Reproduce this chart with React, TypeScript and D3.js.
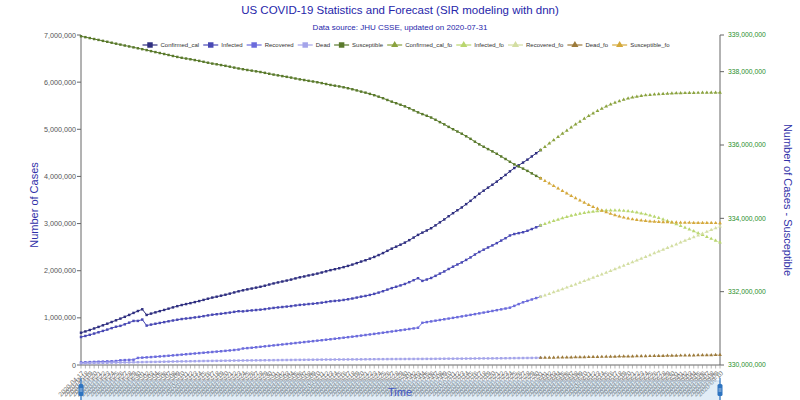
import React, { useMemo } from 'react';
import * as d3 from 'd3';

// values in thousands of cases, daily from 2020-04-17 to 2020-07-31
const confirmedCal = [
  685, 712, 742, 775, 808, 842, 876, 912, 948, 984, 1022, 1062, 1105, 1145, 1182,
  1062, 1090, 1116, 1142, 1168, 1195, 1222, 1248, 1272, 1292, 1312, 1334, 1356, 1381, 1406,
  1430, 1449, 1470, 1491, 1514, 1539, 1563, 1584, 1604, 1622, 1641, 1660, 1682, 1707, 1730,
  1751, 1771, 1791, 1812, 1837, 1860, 1878, 1900, 1918, 1939, 1962, 1987, 2012, 2032, 2052,
  2076, 2102, 2130, 2161, 2194, 2222, 2256, 2292, 2332, 2374, 2422, 2468, 2510, 2552, 2596,
  2648, 2703, 2760, 2808, 2853, 2901, 2962, 3026, 3087, 3156, 3220, 3282, 3342, 3412, 3482,
  3560, 3632, 3698, 3762, 3824, 3890, 3962, 4032, 4108, 4178, 4236, 4294, 4356, 4424, 4492, 4558,
];
const infected = [
  594, 616, 640, 667, 694, 723, 751, 782, 812, 830, 863, 898, 935, 935, 964,
  836, 857, 875, 892, 909, 927, 944, 960, 975, 986, 996, 1009, 1021, 1036, 1052,
  1067, 1077, 1088, 1100, 1112, 1127, 1141, 1138, 1149, 1158, 1166, 1174, 1185, 1199, 1211,
  1221, 1230, 1239, 1249, 1263, 1275, 1282, 1293, 1300, 1310, 1322, 1336, 1351, 1359, 1367,
  1380, 1394, 1410, 1430, 1450, 1465, 1486, 1509, 1536, 1565, 1599, 1631, 1660, 1688, 1719,
  1757, 1799, 1841, 1784, 1813, 1846, 1891, 1939, 1984, 2037, 2086, 2132, 2176, 2229, 2282,
  2343, 2398, 2446, 2493, 2537, 2585, 2639, 2690, 2747, 2778, 2797, 2816, 2847, 2884, 2921, 2959,
];
const recovered = [
  55, 58, 62, 66, 70, 73, 77, 80, 84, 100, 104, 108, 112, 150, 156,
  162, 168, 175, 182, 189, 196, 204, 212, 220, 228, 236, 244, 252, 260, 268,
  276, 284, 292, 300, 309, 318, 327, 350, 358, 366, 376, 386, 396, 406, 416,
  426, 436, 446, 456, 466, 476, 486, 496, 506, 516, 526, 536, 546, 557, 568,
  579, 590, 601, 612, 624, 636, 648, 660, 672, 685, 698, 711, 724, 737, 750,
  763, 776, 790, 895, 910, 925, 940, 955, 970, 985, 1000, 1015, 1031, 1047, 1063,
  1079, 1095, 1112, 1129, 1146, 1163, 1180, 1198, 1216, 1254, 1292, 1330, 1360, 1390, 1420, 1446,
];
const dead = [
  36, 38, 40, 42, 44, 46, 48, 50, 52, 54, 55, 56, 58, 60, 62,
  64, 65, 66, 68, 70, 72, 74, 76, 77, 78, 80, 81, 83, 85, 86,
  87, 88, 90, 91, 93, 94, 95, 96, 97, 98, 99, 100, 101, 102, 103,
  104, 105, 106, 107, 108, 109, 110, 111, 112, 113, 114, 115, 115, 116, 117,
  117, 118, 119, 119, 120, 121, 122, 123, 124, 124, 125, 126, 126, 127, 127,
  128, 128, 129, 129, 130, 130, 131, 132, 133, 134, 134, 135, 135, 136, 137,
  138, 139, 140, 140, 141, 142, 143, 144, 145, 146, 147, 148, 149, 150, 151, 153,
];
const susceptible = [
  338965, 338941, 338916, 338890, 338866, 338840, 338815, 338789, 338763, 338738, 338713, 338688, 338663, 338638, 338613,
  338588, 338560, 338534, 338508, 338482, 338455, 338428, 338402, 338378, 338358, 338338, 338316, 338294, 338269, 338244,
  338220, 338201, 338180, 338159, 338136, 338111, 338087, 338066, 338046, 338028, 338009, 337990, 337968, 337943, 337920,
  337899, 337879, 337859, 337838, 337813, 337790, 337772, 337750, 337732, 337711, 337688, 337663, 337638, 337618, 337598,
  337574, 337548, 337520, 337489, 337456, 337428, 337394, 337358, 337318, 337276, 337228, 337182, 337140, 337098, 337054,
  337002, 336947, 336890, 336842, 336797, 336749, 336688, 336624, 336563, 336494, 336430, 336368, 336308, 336238, 336168,
  336090, 336018, 335952, 335888, 335826, 335760, 335688, 335618, 335542, 335472, 335414, 335356, 335294, 335226, 335158, 335092,
];

// forecast, thousands, daily from 2020-07-31 to 2020-09-10
const confirmedFo = [
  4558, 4628, 4698, 4768, 4837, 4905, 4972, 5038, 5102, 5164, 5224, 5282, 5337, 5389,
  5438, 5484, 5526, 5564, 5598, 5628, 5654, 5676, 5694, 5709, 5721, 5731, 5739, 5746,
  5752, 5757, 5761, 5764, 5767, 5769, 5771, 5773, 5774, 5775, 5776, 5777, 5778, 5779,
];
const infectedFo = [
  2959, 2992, 3024, 3055, 3085, 3114, 3140, 3166, 3188, 3208, 3226, 3242, 3255, 3265,
  3273, 3278, 3280, 3280, 3277, 3271, 3262, 3250, 3235, 3217, 3197, 3174, 3148, 3120,
  3090, 3058, 3024, 2989, 2952, 2915, 2876, 2837, 2797, 2757, 2717, 2677, 2637, 2598,
];
const recoveredFo = [
  1446, 1478, 1510, 1543, 1576, 1609, 1643, 1677, 1711, 1746, 1781, 1816, 1851, 1887,
  1923, 1959, 1995, 2032, 2069, 2106, 2143, 2180, 2218, 2256, 2294, 2332, 2370, 2408,
  2446, 2484, 2522, 2560, 2598, 2636, 2674, 2712, 2750, 2788, 2826, 2864, 2902, 2940,
];
const deadFo = [
  153, 154, 156, 157, 159, 160, 162, 163, 165, 166, 168, 169, 171, 172,
  174, 175, 177, 178, 180, 181, 183, 184, 186, 187, 189, 190, 192, 193,
  195, 196, 198, 199, 201, 202, 204, 205, 207, 208, 210, 211, 213, 214,
];
const susceptibleFo = [
  335092, 335022, 334952, 334882, 334813, 334745, 334678, 334612, 334548, 334486, 334426, 334368, 334313, 334261,
  334212, 334166, 334124, 334086, 334052, 334022, 333996, 333974, 333956, 333941, 333929, 333919, 333911, 333904,
  333898, 333893, 333889, 333886, 333883, 333881, 333879, 333877, 333876, 333875, 333874, 333873, 333872, 333871,
];

const leftTicks = [0, 1000, 2000, 3000, 4000, 5000, 6000, 7000];
const rightTicks = [330000, 332000, 334000, 336000, 338000, 339000];

const fmt = d3.timeFormat('%Y-%m-%d');
const dates = d3.timeDay.range(new Date(2020, 3, 17), new Date(2020, 8, 11)).map(fmt);
const histLen = confirmedCal.length;

type S = { name: string; color: string; data: number[]; fo: boolean; right: boolean };
const series: S[] = [
  { name: 'Confirmed_cal', color: '#2f2f80', data: confirmedCal, fo: false, right: false },
  { name: 'Infected', color: '#4848b4', data: infected, fo: false, right: false },
  { name: 'Recovered', color: '#6b6bdc', data: recovered, fo: false, right: false },
  { name: 'Dead', color: '#a4a4ea', data: dead, fo: false, right: false },
  { name: 'Susceptible', color: '#5a7a2c', data: susceptible, fo: false, right: true },
  { name: 'Confirmed_cal_fo', color: '#8aa23e', data: confirmedFo, fo: true, right: false },
  { name: 'Infected_fo', color: '#b9d66e', data: infectedFo, fo: true, right: false },
  { name: 'Recovered_fo', color: '#d3dea2', data: recoveredFo, fo: true, right: false },
  { name: 'Dead_fo', color: '#9c7a3a', data: deadFo, fo: true, right: false },
  { name: 'Susceptible_fo', color: '#d4a83a', data: susceptibleFo, fo: true, right: true },
];

const W = 800;
const H = 400;
const M = { top: 35, right: 80, bottom: 35, left: 81 };
const FONT = 'Liberation Sans, Arial, Helvetica, sans-serif';

export default function App() {
  const x = d3.scalePoint<string>().domain(dates).range([M.left, W - M.right]);
  const yL = d3.scaleLinear().domain([0, 7000]).range([H - M.bottom, M.top]);
  const yR = d3.scaleLinear().domain([330000, 339000]).range([H - M.bottom, M.top]);
  const numFmt = d3.format(',');

  // legend layout, measured and spread across ~527px
  const legend = useMemo(() => {
    const ctx = document.createElement('canvas').getContext('2d')!;
    ctx.font = `6px ${FONT}`;
    const items = series.map((s) => ({ s, w: 15 + 3 + ctx.measureText(s.name).width }));
    const sumW = d3.sum(items, (d) => d.w);
    const gap = Math.max(4, (527 - sumW) / (items.length - 1));
    const total = sumW + gap * (items.length - 1);
    let cx = 406 - total / 2;
    return items.map((it) => {
      const r = { ...it, x: cx };
      cx += it.w + gap;
      return r;
    });
  }, []);

  const sq = d3.symbol(d3.symbolSquare, 6)()!;
  const tri = d3.symbol(d3.symbolTriangle, 6)()!;

  return (
    <svg width={W} height={H} style={{ display: 'block', position: 'absolute', left: 0, top: 0, fontFamily: FONT }}>
      <rect width={W} height={H} fill="#fff" />
      <text x={400} y={14} textAnchor="middle" fontSize={11.5} fill="#2626aa">
        US COVID-19 Statistics and Forecast (SIR modeling with dnn)
      </text>
      <text x={400} y={30} textAnchor="middle" fontSize={8} fill="#2626aa">
        Data source: JHU CSSE, updated on 2020-07-31
      </text>

      {legend.map(({ s, x: lx }) => (
        <g key={s.name} transform={`translate(${lx},45)`}>
          <line x1={0} x2={15} stroke={s.color} strokeWidth={1.2} />
          <path d={s.fo ? d3.symbol(d3.symbolTriangle, 22)()! : d3.symbol(d3.symbolSquare, 30)()!} transform="translate(7.5,0)" fill={s.color} />
          <text x={18} dy="0.35em" fontSize={6} fill="#333">{s.name}</text>
        </g>
      ))}

      {/* x axis labels, crowded */}
      <g fontSize={6.5} fill="#6f6f6f">
        {dates.map((d) => (
          <text key={d} transform={`translate(${x(d)! + 2},${H - M.bottom + 7}) rotate(-45)`} textAnchor="end" dy="0.35em">
            {d}
          </text>
        ))}
      </g>

      {/* axes */}
      <g stroke="#666" strokeWidth={1}>
        <line x1={M.left} x2={M.left} y1={M.top} y2={H - M.bottom} />
        <line x1={W - M.right} x2={W - M.right} y1={M.top} y2={H - M.bottom} />
        <line x1={M.left} x2={W - M.right} y1={H - M.bottom} y2={H - M.bottom} />
        {leftTicks.map((t) => (
          <line key={t} x1={M.left - 4} x2={M.left} y1={yL(t)} y2={yL(t)} />
        ))}
        {rightTicks.map((t) => (
          <line key={t} x1={W - M.right} x2={W - M.right + 4} y1={yR(t)} y2={yR(t)} />
        ))}
      </g>
      <g stroke="#888" strokeWidth={0.6}>
        {dates.map((d) => (
          <line key={d} x1={x(d)} x2={x(d)} y1={H - M.bottom} y2={H - M.bottom + 3.5} />
        ))}
      </g>
      <g fontSize={7.2} fill="#555" textAnchor="end">
        {leftTicks.map((t) => (
          <text key={t} x={M.left - 5} y={yL(t)} dy="0.35em">{numFmt(t * 1000)}</text>
        ))}
      </g>
      <g fontSize={6.8} fill="#2a8f2a">
        {rightTicks.map((t) => (
          <text key={t} x={W - M.right + 8} y={yR(t)} dy="0.35em">{numFmt(t * 1000)}</text>
        ))}
      </g>
      <text transform={`translate(38,${(M.top + H - M.bottom) / 2 + 5}) rotate(-90)`} textAnchor="middle" fontSize={11} fill="#3030a8">
        Number of Cases
      </text>
      <text transform={`translate(784,${(M.top + H - M.bottom) / 2}) rotate(90)`} textAnchor="middle" fontSize={11} fill="#3030a8">
        Number of Cases - Susceptible
      </text>

      {/* series */}
      {series.map((s) => {
        const y = s.right ? yR : yL;
        const off = s.fo ? histLen - 1 : 0;
        const pts = s.data.map((v, i) => [x(dates[i + off])!, y(v)] as [number, number]);
        const line = d3.line()(pts)!;
        return (
          <g key={s.name}>
            <path d={line} fill="none" stroke={s.color} strokeWidth={s.fo ? 0.6 : 1} strokeDasharray={s.fo ? '2,2' : undefined} />
            {pts.map((p, i) => (
              <path key={i} d={s.fo ? tri : sq} transform={`translate(${p[0]},${p[1]})`} fill={s.color} />
            ))}
          </g>
        );
      })}

      {/* data zoom slider */}
      <rect x={M.left} y={381} width={W - M.left - M.right} height={30} fill="rgba(160,195,225,0.3)" stroke="#c6d6e8" />
      {[M.left, W - M.right].map((hx) => (
        <g key={hx}>
          <line x1={hx} x2={hx} y1={378} y2={400} stroke="#2e74c0" strokeWidth={1.2} />
          <rect x={hx - 2.5} y={384} width={5} height={12} rx={1.5} fill="#2e74c0" />
          <line x1={hx - 1.5} x2={hx + 1.5} y1={389} y2={389} stroke="#fff" strokeWidth={0.6} />
          <line x1={hx - 1.5} x2={hx + 1.5} y1={391} y2={391} stroke="#fff" strokeWidth={0.6} />
        </g>
      ))}
      <text x={400} y={396} textAnchor="middle" fontSize={11} fill="#4357c4">Time</text>
    </svg>
  );
}
